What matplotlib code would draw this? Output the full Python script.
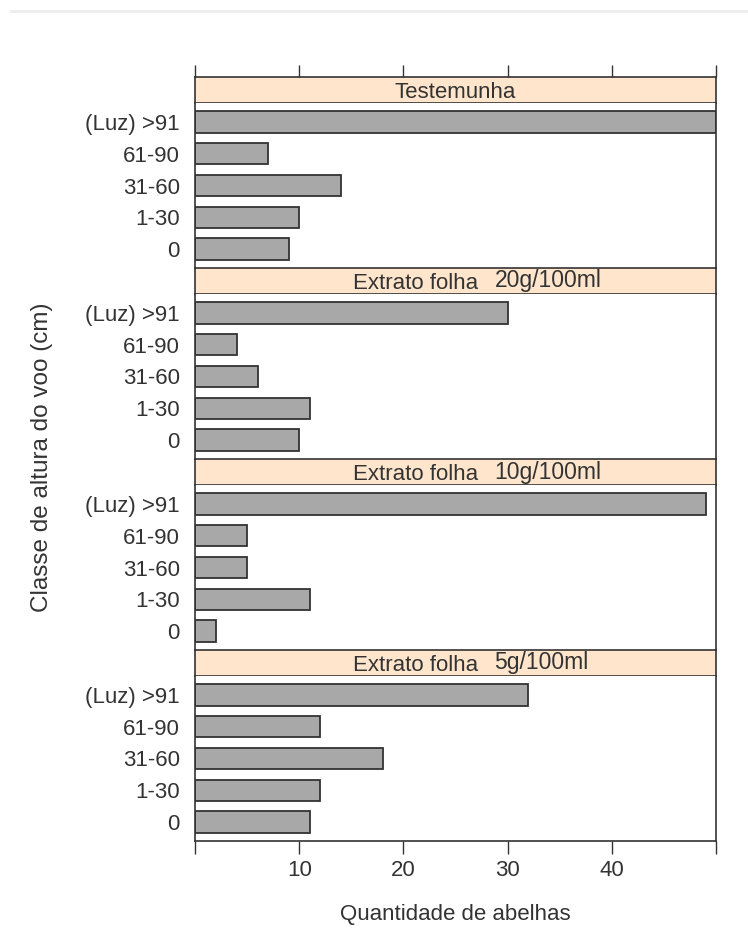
import numpy as np
import matplotlib.pyplot as plt
from matplotlib.lines import Line2D

plt.rcParams['font.family'] = ['Liberation Sans', 'DejaVu Sans']

# data (bottom to top inside each panel)
classes = ['0', '1-30', '31-60', '61-90', '(Luz) >91']
testemunha = [9, 10, 14, 7, 50]
folha_20g = [10, 11, 6, 4, 30]
folha_10g = [2, 11, 5, 5, 49]
folha_5g = [11, 12, 18, 12, 32]

panels = [
    (('Testemunha', None), testemunha),
    (('Extrato folha', '20g/100ml'), folha_20g),
    (('Extrato folha', '10g/100ml'), folha_10g),
    (('Extrato folha', '5g/100ml'), folha_5g),
]

W, H = 748, 942
fig = plt.figure(figsize=(W / 100, H / 100), dpi=100)

txt = '#333333'
edge = '#333333'
left, right = 195, 716
top = 77
panel_h = 191
strip_h = 26

# faint screenshot band at the top
fig.add_artist(Line2D([0.015, 1.0], [1 - 11 / H, 1 - 11 / H], color='#eeeeee', lw=2))

for i, (strip, vals) in enumerate(panels):
    y0 = top + i * panel_h
    # strip axes
    sax = fig.add_axes([left / W, 1 - (y0 + strip_h) / H, (right - left) / W, strip_h / H])
    sax.set_facecolor('#ffe5cc')
    sax.set_xlim(0, 50)
    sax.set_ylim(0, 1)
    sax.set_yticks([])
    for s in sax.spines.values():
        s.set_color(edge)
        s.set_linewidth(1.2)
    if i == 0:
        sax.xaxis.set_ticks_position('top')
        sax.set_xticks([0, 10, 20, 30, 40, 50])
        sax.tick_params(axis='x', length=9, width=1, color=edge, labeltop=False, labelbottom=False)
    else:
        sax.set_xticks([])
    name, dose = strip
    if dose is None:
        sax.text(0.5, 0.42, name, transform=sax.transAxes, ha='center', va='center',
                 fontsize=16, color=txt)
    else:
        sax.text(0.303, 0.42, name, transform=sax.transAxes, ha='left', va='center',
                 fontsize=16, color=txt)
        sax.text(0.575, 0.5, dose, transform=sax.transAxes, ha='left', va='center',
                 fontsize=16.5, color=txt)

    # bar axes
    bh = panel_h - strip_h
    ax = fig.add_axes([left / W, 1 - (y0 + panel_h) / H, (right - left) / W, bh / H])
    pos = np.arange(1, len(classes) + 1)
    ax.barh(pos, vals, height=0.67, color='#a8a8a8', edgecolor=edge, linewidth=1.3)
    ax.set_xlim(0, 50)
    ax.set_ylim(0.4, 5.6)
    ax.set_yticks(pos)
    ax.set_yticklabels(classes, fontsize=16, color=txt)
    ax.tick_params(axis='y', length=0, pad=11)
    for s in ax.spines.values():
        s.set_color(edge)
        s.set_linewidth(1.2)
    ax.spines['top'].set_visible(False)
    if i == len(panels) - 1:
        ax.set_xticks([0, 10, 20, 30, 40, 50])
        ax.set_xticklabels(['', '10', '20', '30', '40', ''], fontsize=16, color=txt)
        ax.tick_params(axis='x', length=9, width=1, color=edge, pad=5)
        ax.set_xlabel('Quantidade de abelhas', fontsize=16, color=txt, labelpad=16)
    else:
        ax.set_xticks([])
        ax.spines['bottom'].set_visible(False)

fig.text(42 / W, 1 - 457 / H, 'Classe de altura do voo (cm)', rotation=90,
         ha='center', va='center', fontsize=17.5, color=txt)

fig.savefig('out.png', dpi=100)
